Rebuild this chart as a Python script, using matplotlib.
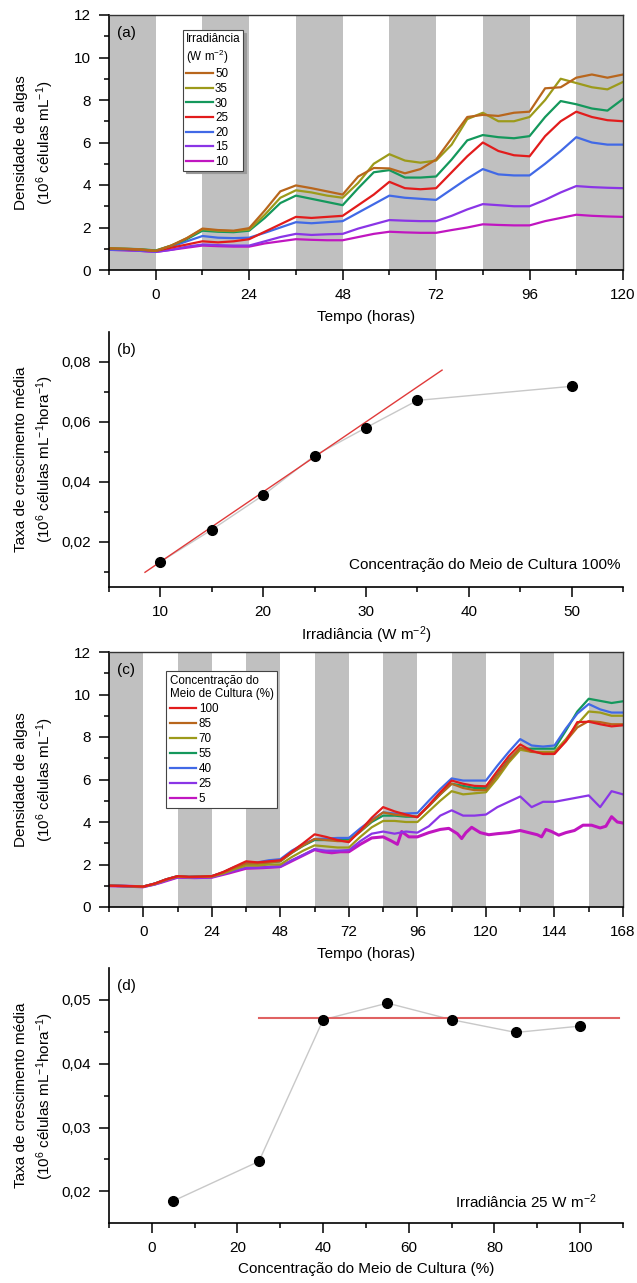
import matplotlib
matplotlib.use("Agg")
import matplotlib.pyplot as plt
from matplotlib.lines import Line2D
import numpy as np

plt.rcParams['font.family'] = ['Liberation Sans', 'DejaVu Sans']
plt.rcParams['mathtext.fontset'] = 'custom'
plt.rcParams['mathtext.rm'] = 'Liberation Sans'
plt.rcParams['mathtext.it'] = 'Liberation Sans:italic'
plt.rcParams['mathtext.bf'] = 'Liberation Sans:bold'

# ---------------- data: panel (a) ----------------
time_a = [-12, -8, -4, 0, 4, 8, 12, 16, 20, 24, 28, 32, 36, 40, 44, 48, 52, 56, 60, 64,
          68, 72, 76, 80, 84, 88, 92, 96, 100, 104, 108, 112, 116, 120]
dark_a = [-12, 12, 36, 60, 84, 108]
irr_labels = ['50', '35', '30', '25', '20', '15', '10']
irr_50 = [1.02, 1.0, 0.97, 0.9, 1.15, 1.5, 1.95, 1.88, 1.85, 1.97, 2.8, 3.7, 3.98, 3.85, 3.7, 3.55, 4.4, 4.8,
          4.78, 4.55, 4.75, 5.2, 6.2, 7.2, 7.3, 7.25, 7.4, 7.45, 8.55, 8.6, 9.05, 9.2, 9.05, 9.2]
irr_35 = [1.02, 1.0, 0.97, 0.9, 1.15, 1.5, 1.92, 1.85, 1.83, 1.9, 2.6, 3.4, 3.75, 3.65, 3.5, 3.4, 4.1, 5.0,
          5.45, 5.15, 5.05, 5.15, 5.9, 7.1, 7.4, 7.0, 7.0, 7.2, 8.0, 9.0, 8.8, 8.6, 8.5, 8.85]
irr_30 = [1.02, 1.0, 0.98, 0.92, 1.15, 1.45, 1.85, 1.8, 1.78, 1.85, 2.45, 3.15, 3.5, 3.35, 3.2, 3.05, 3.85, 4.6,
          4.7, 4.35, 4.35, 4.4, 5.2, 6.1, 6.35, 6.25, 6.2, 6.3, 7.2, 7.95, 7.8, 7.6, 7.5, 8.05]
irr_25 = [1.0, 0.98, 0.95, 0.9, 1.05, 1.2, 1.35, 1.3, 1.35, 1.45, 1.8, 2.15, 2.5, 2.45, 2.5, 2.55, 3.05, 3.55,
          4.15, 3.85, 3.8, 3.85, 4.6, 5.35, 6.0, 5.6, 5.4, 5.35, 6.3, 7.0, 7.45, 7.2, 7.05, 7.0]
irr_20 = [0.97, 0.95, 0.93, 0.88, 1.1, 1.35, 1.6, 1.52, 1.5, 1.52, 1.75, 2.0, 2.25, 2.2, 2.25, 2.3, 2.7, 3.1,
          3.5, 3.4, 3.35, 3.3, 3.8, 4.3, 4.75, 4.5, 4.45, 4.45, 5.0, 5.6, 6.25, 6.0, 5.9, 5.9]
irr_15 = [0.95, 0.93, 0.9, 0.85, 0.95, 1.1, 1.2, 1.17, 1.15, 1.15, 1.35, 1.55, 1.7, 1.65, 1.68, 1.7, 1.95, 2.15,
          2.35, 2.32, 2.3, 2.3, 2.55, 2.85, 3.1, 3.05, 3.0, 3.0, 3.3, 3.65, 3.95, 3.9, 3.87, 3.85]
irr_10 = [0.95, 0.93, 0.9, 0.85, 0.95, 1.05, 1.15, 1.12, 1.1, 1.1, 1.25, 1.35, 1.45, 1.42, 1.4, 1.4, 1.55, 1.7,
          1.8, 1.77, 1.75, 1.75, 1.88, 2.0, 2.15, 2.12, 2.1, 2.1, 2.3, 2.45, 2.6, 2.55, 2.52, 2.5]

# ---------------- data: panel (b) ----------------
irr_b = [10, 15, 20, 25, 30, 35, 50]
rate_b = [0.0133, 0.0240, 0.0355, 0.0487, 0.0580, 0.0671, 0.0718]
fit_b_x = [8.5, 37.4]
fit_b_y = [0.0098, 0.0772]

# ---------------- data: panel (c) ----------------
time_c = [-12, -8, -4, 0, 4, 8, 12, 16, 20, 24, 28, 32, 36, 40, 44, 48, 52, 56, 60, 64, 68, 72, 76, 80,
          84, 88, 92, 96, 100, 104, 108, 112, 116, 120, 124, 128, 132, 136, 140, 144, 148, 152, 156, 160,
          164, 168]
dark_c = [-12, 12, 36, 60, 84, 108, 132, 156]
conc_labels = ['100', '85', '70', '55', '40', '25', '5']
conc_100 = [1.0, 0.99, 0.98, 0.96, 1.1, 1.3, 1.45, 1.42, 1.43, 1.45, 1.65, 1.9, 2.15, 2.1, 2.15, 2.2, 2.6, 3.0,
            3.42, 3.3, 3.15, 3.05, 3.6, 4.2, 4.7, 4.5, 4.35, 4.22, 4.8, 5.4, 5.95, 5.8, 5.7, 5.68, 6.4, 7.1,
            7.65, 7.35, 7.2, 7.2, 7.8, 8.7, 8.72, 8.6, 8.5, 8.55]
conc_85 = [1.0, 0.99, 0.98, 0.96, 1.1, 1.3, 1.45, 1.42, 1.43, 1.45, 1.62, 1.85, 2.05, 2.05, 2.1, 2.15, 2.55, 2.9,
           3.2, 3.15, 3.1, 3.1, 3.55, 4.05, 4.45, 4.35, 4.3, 4.25, 4.75, 5.3, 5.8, 5.6, 5.5, 5.5, 6.2, 6.9,
           7.5, 7.3, 7.25, 7.25, 7.8, 8.45, 8.75, 8.7, 8.6, 8.6]
conc_70 = [1.0, 0.99, 0.98, 0.96, 1.08, 1.28, 1.43, 1.4, 1.42, 1.43, 1.58, 1.78, 1.95, 1.95, 2.0, 2.0, 2.35, 2.65,
           2.9, 2.85, 2.8, 2.8, 3.3, 3.75, 4.05, 4.05, 4.0, 4.0, 4.5, 5.0, 5.45, 5.3, 5.35, 5.4, 6.05, 6.8,
           7.4, 7.3, 7.3, 7.3, 7.9, 8.6, 9.2, 9.15, 9.0, 9.0]
conc_55 = [1.0, 0.99, 0.98, 0.96, 1.1, 1.3, 1.45, 1.42, 1.43, 1.45, 1.63, 1.88, 2.05, 2.05, 2.1, 2.15, 2.55, 2.88,
           3.15, 3.15, 3.15, 3.15, 3.55, 4.0, 4.3, 4.3, 4.25, 4.25, 4.75, 5.3, 5.8, 5.7, 5.6, 5.6, 6.25, 6.95,
           7.45, 7.45, 7.45, 7.45, 8.3, 9.2, 9.8, 9.7, 9.6, 9.68]
conc_40 = [1.0, 0.99, 0.98, 0.96, 1.1, 1.3, 1.45, 1.42, 1.43, 1.45, 1.63, 1.88, 2.05, 2.1, 2.2, 2.25, 2.65, 2.95,
           3.2, 3.22, 3.25, 3.25, 3.7, 4.1, 4.45, 4.4, 4.4, 4.42, 5.0, 5.55, 6.05, 5.95, 5.95, 5.95, 6.65, 7.3,
           7.9, 7.6, 7.55, 7.6, 8.4, 9.1, 9.55, 9.3, 9.15, 9.15]
conc_25 = [1.0, 0.99, 0.97, 0.95, 1.05, 1.25, 1.4, 1.38, 1.38, 1.4, 1.55, 1.72, 1.85, 1.85, 1.88, 1.9, 2.2, 2.45,
           2.72, 2.65, 2.65, 2.68, 3.1, 3.45, 3.55, 3.45, 3.55, 3.5, 3.8, 4.3, 4.55, 4.3, 4.3, 4.35, 4.7, 4.95,
           5.2, 4.7, 4.95, 4.95, 5.05, 5.15, 5.25, 4.7, 5.45, 5.3]
time_c5 = [-12, -6, 0, 6, 12, 18, 24, 30, 36, 42, 48, 54, 60, 63, 66, 69, 72, 76, 80, 84, 87, 89, 90.5, 93,
           96, 100, 104, 107, 110, 111.5, 113, 115, 118, 121, 124, 128, 132, 135, 138, 139.5, 141, 143,
           145.5, 148, 151, 154, 157, 160, 162, 164, 166, 168]
conc_5 = [1.0, 0.98, 0.95, 1.15, 1.4, 1.38, 1.4, 1.6, 1.82, 1.85, 1.9, 2.3, 2.7, 2.6, 2.55, 2.6, 2.6, 2.95,
          3.25, 3.3, 3.1, 2.95, 3.55, 3.3, 3.3, 3.5, 3.65, 3.7, 3.45, 3.22, 3.5, 3.75, 3.5, 3.4, 3.45, 3.5,
          3.6, 3.5, 3.4, 3.3, 3.65, 3.55, 3.38, 3.5, 3.6, 3.85, 3.85, 3.72, 3.8, 4.25, 4.0, 3.95]

# ---------------- data: panel (d) ----------------
conc_d = [5, 25, 40, 55, 70, 85, 100]
rate_d = [0.0185, 0.0247, 0.0469, 0.0495, 0.0469, 0.0449, 0.0459]
mean_d_x = [25, 109]
mean_d_y = [0.0471, 0.0471]

# ---------------- styling ----------------
col_brown = '#B8661C'
col_olive = '#9C9A1A'
col_green = '#14985C'
col_red = '#E21C1C'
col_blue = '#4169E6'
col_purple = '#8A35E6'
col_magenta = '#C016C0'
band_col = '#C0C0C0'
FS = 11
LFS = 8.4

W, H = 637, 1283
fig = plt.figure(figsize=(W / 100, H / 100), dpi=100)


def add_axes(top_px, bottom_px, left_px=109, right_px=623):
    return fig.add_axes([left_px / W, 1 - bottom_px / H, (right_px - left_px) / W, (bottom_px - top_px) / H])


def style(ax, box):
    for s in ['left', 'bottom']:
        ax.spines[s].set_linewidth(1.2)
    if box:
        for s in ['top', 'right']:
            ax.spines[s].set_linewidth(1.0)
            ax.spines[s].set_color('#333333')
    else:
        ax.spines['top'].set_visible(False)
        ax.spines['right'].set_visible(False)
    ax.tick_params(which='major', direction='out', length=7.5, width=1.1, labelsize=FS, pad=5.5,
                   top=False, right=False)
    ax.tick_params(which='minor', direction='out', length=3.7, width=1.1, top=False, right=False)


ylab_dens = 'Densidade de algas\n(10$^{6}$ células mL$^{-1}$)'
ylab_rate = 'Taxa de crescimento média\n(10$^{6}$ células mL$^{-1}$hora$^{-1}$)'
YLX = -0.104

# ---- (a) ----
ax = add_axes(15, 270)
for s in dark_a:
    ax.axvspan(s, s + 12, color=band_col, lw=0, zorder=0)
series_a = [irr_50, irr_35, irr_30, irr_25, irr_20, irr_15, irr_10]
cols_a = [col_brown, col_olive, col_green, col_red, col_blue, col_purple, col_magenta]
for vals, c in reversed(list(zip(series_a, cols_a))):
    ax.plot(time_a, vals, color=c, lw=1.6, zorder=2)
ax.set_xlim(-12, 120)
ax.set_ylim(0, 12)
ax.set_xticks(range(0, 121, 24))
ax.set_xticks(range(-12, 121, 24), minor=True)
ax.set_yticks(range(0, 13, 2))
ax.set_yticks(range(1, 12, 2), minor=True)
style(ax, True)
ax.set_xlabel('Tempo (horas)', fontsize=FS, labelpad=6)
ax.set_ylabel(ylab_dens, fontsize=FS, linespacing=1.35)
ax.yaxis.set_label_coords(YLX, 0.5)
ax.text(0.015, 0.93, '(a)', transform=ax.transAxes, fontsize=FS, va='center', ha='left')
hand = [Line2D([], [], color=c, lw=1.6) for c in cols_a]
leg = ax.legend(hand, irr_labels, title='Irradiância\n(W m$^{-2}$)', loc='upper left',
                bbox_to_anchor=(0.144, 0.941), borderaxespad=0, fontsize=LFS, title_fontsize=LFS,
                alignment='left', handlelength=2.3, handletextpad=0.2, labelspacing=0.22,
                borderpad=0.25, fancybox=False, shadow={'color': '#9a9a9a', 'alpha': 1},
                framealpha=1, edgecolor='#444444')
leg.get_frame().set_linewidth(0.8)

# ---- (b) ----
ax = add_axes(331.7, 586.7)
ax.plot(fit_b_x, fit_b_y, color='#E03A3A', lw=1.0, zorder=2)
ax.plot(irr_b, rate_b, color='#C8C8C8', lw=1.0, zorder=1)
ax.plot(irr_b, rate_b, ls='none', marker='o', ms=7, color='black', zorder=3)
ax.set_xlim(5, 55)
ax.set_ylim(0.005, 0.09)
ax.set_xticks([10, 20, 30, 40, 50])
ax.set_xticks([5, 15, 25, 35, 45, 55], minor=True)
ax.set_yticks([0.02, 0.04, 0.06, 0.08])
ax.set_yticklabels(['0,02', '0,04', '0,06', '0,08'])
ax.set_yticks([0.01, 0.03, 0.05, 0.07], minor=True)
style(ax, False)
ax.set_xlabel('Irradiância (W m$^{-2}$)', fontsize=FS, labelpad=4)
ax.set_ylabel(ylab_rate, fontsize=FS, linespacing=1.35)
ax.yaxis.set_label_coords(YLX, 0.5)
ax.text(0.015, 0.93, '(b)', transform=ax.transAxes, fontsize=FS, va='center', ha='left')
ax.text(0.996, 0.085, 'Concentração do Meio de Cultura 100%', transform=ax.transAxes,
        fontsize=FS, va='center', ha='right')

# ---- (c) ----
ax = add_axes(652, 907)
for s in dark_c:
    ax.axvspan(s, s + 12, color=band_col, lw=0, zorder=0)
cols_c = [col_red, col_brown, col_olive, col_green, col_blue, col_purple, col_magenta]
ax.plot(time_c5, conc_5, color=col_magenta, lw=2.2, zorder=2)
ax.plot(time_c, conc_25, color=col_purple, lw=1.6, zorder=2)
ax.plot(time_c, conc_55, color=col_green, lw=1.6, zorder=2)
ax.plot(time_c, conc_40, color=col_blue, lw=1.6, zorder=2)
ax.plot(time_c, conc_70, color=col_olive, lw=1.6, zorder=2)
ax.plot(time_c, conc_85, color=col_brown, lw=1.6, zorder=2)
ax.plot(time_c, conc_100, color=col_red, lw=1.6, zorder=2)
ax.set_xlim(-12, 168)
ax.set_ylim(0, 12)
ax.set_xticks(range(0, 169, 24))
ax.set_xticks(range(-12, 169, 24), minor=True)
ax.set_yticks(range(0, 13, 2))
ax.set_yticks(range(1, 12, 2), minor=True)
style(ax, True)
ax.set_xlabel('Tempo (horas)', fontsize=FS, labelpad=6)
ax.set_ylabel(ylab_dens, fontsize=FS, linespacing=1.35)
ax.yaxis.set_label_coords(YLX, 0.5)
ax.text(0.015, 0.93, '(c)', transform=ax.transAxes, fontsize=FS, va='center', ha='left')
hand = [Line2D([], [], color=c, lw=1.6) for c in cols_c]
leg = ax.legend(hand, conc_labels, title='Concentração do\nMeio de Cultura (%)', loc='upper left',
                bbox_to_anchor=(0.111, 0.925), borderaxespad=0, fontsize=LFS, title_fontsize=LFS,
                alignment='left', handlelength=2.3, handletextpad=0.2, labelspacing=0.25,
                borderpad=0.3, fancybox=False, framealpha=1, edgecolor='#444444')
leg.get_frame().set_linewidth(0.8)

# ---- (d) ----
ax = add_axes(968, 1223.3)
ax.plot(mean_d_x, mean_d_y, color='#E06262', lw=1.5, zorder=2)
ax.plot(conc_d, rate_d, color='#C8C8C8', lw=1.0, zorder=1)
ax.plot(conc_d, rate_d, ls='none', marker='o', ms=7, color='black', zorder=3)
ax.set_xlim(-10, 110)
ax.set_ylim(0.015, 0.055)
ax.set_xticks([0, 20, 40, 60, 80, 100])
ax.set_xticks([-10, 10, 30, 50, 70, 90, 110], minor=True)
ax.set_yticks([0.02, 0.03, 0.04, 0.05])
ax.set_yticklabels(['0,02', '0,03', '0,04', '0,05'])
ax.set_yticks([0.025, 0.035, 0.045], minor=True)
style(ax, False)
ax.set_xlabel('Concentração do Meio de Cultura (%)', fontsize=FS, labelpad=5)
ax.set_ylabel(ylab_rate, fontsize=FS, linespacing=1.35)
ax.yaxis.set_label_coords(YLX, 0.5)
ax.text(0.015, 0.93, '(d)', transform=ax.transAxes, fontsize=FS, va='center', ha='left')
ax.text(0.949, 0.085, 'Irradiância 25 W m$^{-2}$', transform=ax.transAxes,
        fontsize=FS, va='center', ha='right')

fig.savefig('out.png', dpi=100)
